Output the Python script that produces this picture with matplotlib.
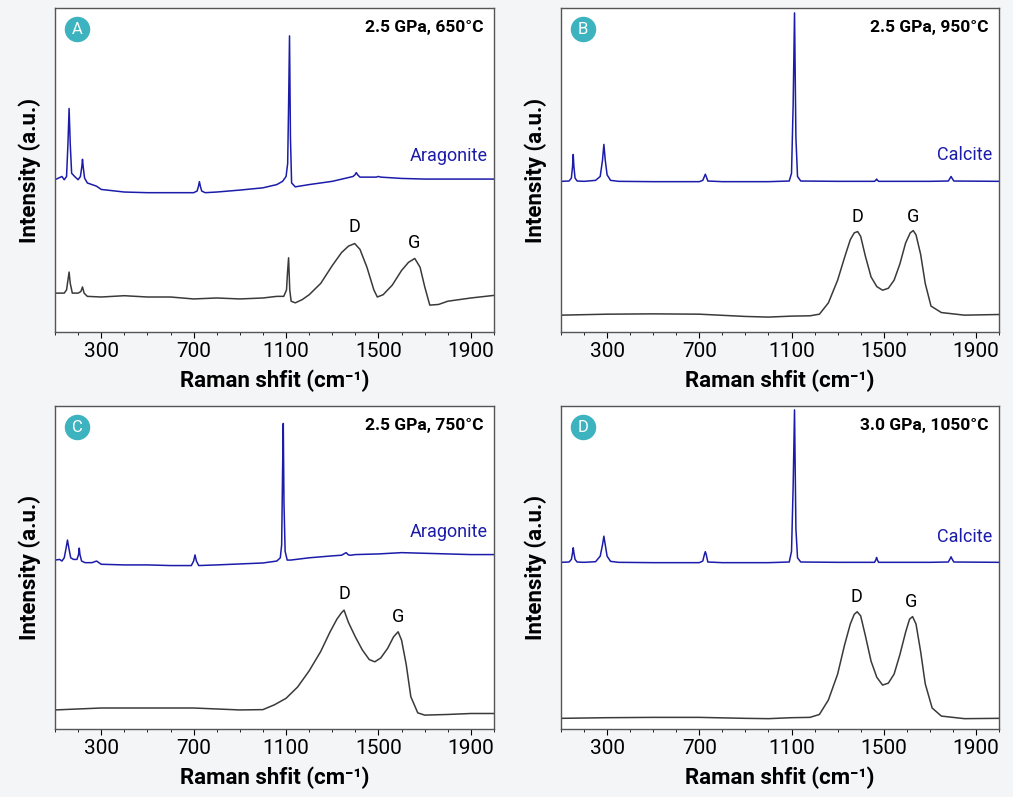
import matplotlib
matplotlib.use("Agg")
import matplotlib.pyplot as plt
import numpy as np

plt.rcParams['font.family'] = ['Roboto', 'DejaVu Sans']

# ---- data (arbitrary intensity units 0-100) ----
A_blue_x = [100,130,140,150,156,161,166,172,185,200,210,216,219,222,228,240,260,280,300,400,500,600,700,715,721,725,729,735,750,800,900,1000,1060,1085,1100,1107,1111,1115,1119,1124,1140,1200,1300,1390,1398,1404,1410,1420,1490,1500,1510,1600,1700,1800,1900,2000]
A_blue_y = [47,48,47,48,58,69,58,49,48,47,48,51,53.3,51,47.5,46,45.5,45,44,43.2,43,43,43,43.5,45,46.4,45,43.5,43,43.2,43.8,44.5,45.5,46.5,48,52,70,91.4,60,46,44.8,45.5,46.5,48,48.5,49.2,48.5,47.8,47.8,48,47.8,47.4,47.2,47.2,47.2,47.2]
A_gray_x = [100,140,150,156,161,166,175,200,212,219,226,240,300,400,500,600,700,800,900,1000,1060,1090,1102,1106,1111,1116,1122,1140,1170,1200,1250,1300,1340,1370,1397,1420,1450,1480,1495,1520,1560,1600,1630,1657,1680,1700,1722,1760,1800,1900,2000]
A_gray_y = [12,12,13,16,18.5,15,12,12,12.5,13.9,12,11,10.8,11.2,10.8,10.8,10.2,10.5,10.2,10.5,11,11,13,18,22.9,13,9.5,9,10,11.5,15,20.5,24.5,26.5,27.3,25.5,20,13,10.8,11.5,14.5,19,21.5,22.7,20,14,8.3,8.5,9.5,10.5,11.3]

B_blue_x = [100,135,145,150,153,156,161,170,200,250,270,280,286,292,300,315,350,500,700,715,722,726,730,737,800,1000,1090,1100,1107,1113,1119,1126,1140,1300,1460,1466,1469,1472,1478,1700,1780,1788,1792,1796,1804,2000]
B_blue_y = [46.5,46.6,47.5,51,54.8,51,47.5,46.6,46.5,46.8,48,53,57.9,53,48.5,46.8,46.5,46.4,46.4,46.8,48,48.7,48,46.6,46.4,46.4,46.6,49,70,98.5,60,48,46.6,46.5,46.5,46.9,47.2,46.9,46.5,46.5,46.6,47.5,48,47.5,46.6,46.5]
B_gray_x = [100,300,500,700,900,1000,1100,1180,1221,1260,1300,1330,1355,1372,1387,1400,1420,1445,1470,1495,1520,1545,1570,1595,1615,1628,1640,1660,1680,1705,1750,1850,2000]
B_gray_y = [5.2,5.5,5.6,5.5,4.8,4.6,4.9,5,5.5,9,16,23,28.5,30.6,31,29.5,23.5,17,14,12.9,13.5,16,21,27.5,30.6,31.3,30,24,15,8,6,5.2,5.4]

C_blue_x = [100,120,130,140,148,154,160,168,180,195,202,205,208,215,230,260,280,300,400,500,600,690,700,706,712,722,800,900,1000,1060,1075,1081,1085,1088,1091,1096,1105,1120,1200,1300,1340,1360,1370,1380,1400,1500,1600,1700,1800,1900,2000]
C_blue_y = [52.3,52.5,52,53,56,58.5,56,53,52.5,52.5,54,56,54,52,51.5,51.5,52,51,50.8,50.8,50.6,50.6,52,53.9,52,50.6,50.8,51.1,51.4,52,53,57,80,94.6,70,55,52.3,52.3,53,53.6,53.8,54.6,53.9,53.8,54,54.2,54.6,54.4,54.2,54,54]
C_gray_x = [100,300,500,700,900,1000,1050,1100,1150,1200,1250,1290,1320,1340,1351,1370,1400,1430,1460,1484,1510,1540,1565,1585,1600,1620,1640,1670,1700,1800,1900,2000]
C_gray_y = [5.9,6.5,6.5,6.5,5.9,6,7.5,9.5,13,18,24,30,34,36,36.8,33,28.5,24.5,21.5,20.8,22,25,28.5,30.1,27.5,20,10,5,4.3,4.5,4.8,4.8]

D_blue_x = [100,135,145,150,153,156,161,170,200,250,270,280,286,292,300,315,350,500,700,715,722,726,730,737,800,1000,1090,1100,1107,1113,1119,1126,1140,1300,1460,1466,1469,1472,1478,1700,1780,1788,1792,1796,1804,2000]
D_blue_y = [51.6,51.7,52.5,54.5,56.1,54.5,52.5,51.7,51.6,51.8,53.5,57,59.7,57,53.5,51.9,51.6,51.5,51.5,52,54,54.9,54,51.7,51.5,51.5,51.7,55,75,98.8,62,53,51.7,51.6,51.6,52.4,53.1,52.4,51.6,51.6,51.7,52.7,53.3,52.7,51.7,51.6]
D_gray_x = [100,300,500,700,900,1000,1100,1180,1221,1260,1300,1330,1355,1372,1385,1400,1420,1445,1470,1495,1520,1545,1570,1595,1612,1625,1640,1660,1680,1710,1750,1850,2000]
D_gray_y = [3.3,3.5,3.6,3.6,3.3,3.2,3.5,3.6,4.5,9,17,26,32.5,35.5,36.3,35,29,21,16,13.6,14.2,17,23,30,34,34.8,32.5,24,14,6.5,4,3.2,3.3]

panels = [
    ("A", "2.5 GPa, 650°C", "Aragonite", A_blue_x, A_blue_y, A_gray_x, A_gray_y, (1397, 32.4), (1655, 27.4), 54.4),
    ("B", "2.5 GPa, 950°C", "Calcite", B_blue_x, B_blue_y, B_gray_x, B_gray_y, (1387, 35.6), (1628, 35.6), 54.6),
    ("C", "2.5 GPa, 750°C", "Aragonite", C_blue_x, C_blue_y, C_gray_x, C_gray_y, (1351, 41.8), (1585, 34.8), 61.1),
    ("D", "3.0 GPa, 1050°C", "Calcite", D_blue_x, D_blue_y, D_gray_x, D_gray_y, (1382, 40.8), (1620, 39.4), 59.5),
]
xticks = [300, 700, 1100, 1500, 1900]

W, H = 1013, 797
fig = plt.figure(figsize=(W/100, H/100), dpi=100, facecolor='#f3f5f6')
rects = [(55, 8, 494, 332), (561, 8, 999, 332), (55, 406, 494, 729), (561, 406, 999, 729)]

for (lab, cond, mineral, bx, by, gx, gy, dpos, gpos, my), (l, t, r, b) in zip(panels, rects):
    ax = fig.add_axes([l/W, 1-b/H, (r-l)/W, (b-t)/H])
    ax.set_facecolor('white')
    ax.plot(bx, by, color='#1c1caa', lw=1.1)
    ax.plot(gx, gy, color='#3a3a3a', lw=1.1)
    ax.set_xlim(100, 2000)
    ax.set_ylim(0, 100)
    ax.set_xticks(xticks)
    ax.set_xticks(np.arange(100, 2001, 100), minor=True)
    ax.set_yticks([])
    ax.tick_params(axis='x', labelsize=15, length=4, direction='out')
    ax.tick_params(axis='x', which='minor', length=2.5)
    for s in ax.spines.values():
        s.set_color('#555555'); s.set_linewidth(1)
    ax.set_xlabel('Raman shfit (cm⁻¹)', fontsize=16, fontweight='bold', labelpad=6)
    ax.set_ylabel('Intensity (a.u.)', fontsize=16, fontweight='bold', labelpad=10)
    ax.text(0.975, 0.94, cond, transform=ax.transAxes, ha='right', va='center', fontsize=12.5, fontweight='bold')
    ax.text(0.985, my / 100, mineral, transform=ax.transAxes, ha='right', va='center', fontsize=13, color='#1c1caa')
    ax.text(dpos[0], dpos[1], 'D', ha='center', va='center', fontsize=13)
    ax.text(gpos[0], gpos[1], 'G', ha='center', va='center', fontsize=13)
    ax.scatter([0.05], [0.934], s=300, color='#3db3bf', transform=ax.transAxes, zorder=5, clip_on=False)
    ax.text(0.05, 0.934, lab, transform=ax.transAxes, ha='center', va='center', color='white', fontsize=12, zorder=6)

fig.savefig('out.png', dpi=100, facecolor=fig.get_facecolor())
